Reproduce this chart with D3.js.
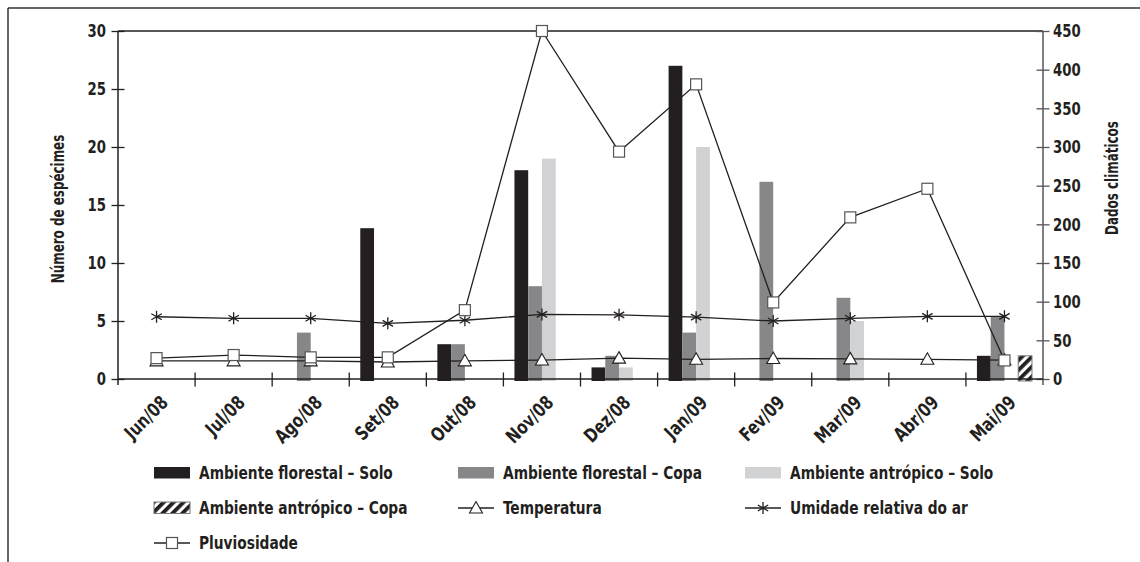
<!DOCTYPE html>
<html>
<head>
<meta charset="utf-8">
<script src="https://cdn.jsdelivr.net/npm/d3@7"></script>
<style>
  html, body { margin: 0; padding: 0; background: #fff; }
  svg { display: block; }
  text { font-family: "Liberation Sans Narrow", "DejaVu Sans Condensed", "Arial Narrow", sans-serif; font-weight: bold; fill: #231f20; }
</style>
</head>
<body>
<svg id="chart" width="1140" height="562"></svg>
<script>
const months = ["Jun/08","Jul/08","Ago/08","Set/08","Out/08","Nov/08","Dez/08","Jan/09","Fev/09","Mar/09","Abr/09","Mai/09"];
const florestalSolo = [0, 0, 0, 13, 3, 18, 1, 27, 0, 0, 0, 2];
const florestalCopa = [0, 0, 4, 0, 3, 8, 2, 4, 17, 7, 0, 5.4];
const antropicoSolo = [0, 0, 0, 0, 0, 19, 1, 20, 0, 5, 0, 0];
const antropicoCopa = [0, 0, 0, 0, 0, 0, 0, 0, 0, 0, 0, 2];
const temperatura = [23.5, 23.5, 23.5, 22, 23.5, 24.5, 27, 25.5, 26.5, 26, 25.5, 24.5];
const umidade = [80.5, 78.5, 78.5, 72, 76, 83.5, 83, 80, 75, 78.5, 81, 81];
const pluviosidade = [27, 31, 28, 28, 89, 450, 294, 381, 99, 209, 246, 24];
const leftTicks = [0, 5, 10, 15, 20, 25, 30];
const rightTicks = [0, 50, 100, 150, 200, 250, 300, 350, 400, 450];

const barSeries = [
  {name: "Ambiente florestal – Solo", values: florestalSolo, fill: "#231f20"},
  {name: "Ambiente florestal – Copa", values: florestalCopa, fill: "#87878a"},
  {name: "Ambiente antrópico – Solo", values: antropicoSolo, fill: "#d1d2d4"},
  {name: "Ambiente antrópico – Copa", values: antropicoCopa, fill: "url(#hatch)"}
];
const lineSeries = [
  {name: "Temperatura", values: temperatura, marker: "triangle"},
  {name: "Umidade relativa do ar", values: umidade, marker: "star"},
  {name: "Pluviosidade", values: pluviosidade, marker: "square"}
];

const svg = d3.select("#chart");
const L = 118, R = 1043, T = 31, B = 379;
const K = 0.82;

const defs = svg.append("defs");
const pat = defs.append("pattern").attr("id", "hatch").attr("patternUnits", "userSpaceOnUse")
  .attr("width", 7).attr("height", 7).attr("patternTransform", "rotate(45)");
pat.append("rect").attr("width", 7).attr("height", 7).attr("fill", "#fff");
pat.append("rect").attr("width", 3.8).attr("height", 7).attr("fill", "#231f20");

svg.append("line").attr("x1", 8).attr("x2", 1140).attr("y1", 8).attr("y2", 8).attr("stroke", "#333").attr("stroke-width", 1.5);
svg.append("line").attr("x1", 8).attr("x2", 8).attr("y1", 8).attr("y2", 562).attr("stroke", "#333").attr("stroke-width", 1.5);

const x0 = d3.scaleBand().domain(months).range([L, R]).padding(0);
const x1 = d3.scaleBand().domain(barSeries.map(d => d.name))
  .range([x0.bandwidth() * 0.143, x0.bandwidth() * 0.857]).padding(0);
const yL = d3.scaleLinear().domain([0, 30]).range([B, T]);
const yR = d3.scaleLinear().domain([0, 450]).range([B, T]);

svg.append("line").attr("x1", L).attr("x2", R).attr("y1", T).attr("y2", T).attr("stroke", "#231f20").attr("stroke-width", 1.3);

barSeries.forEach(s => {
  svg.append("g").selectAll("rect").data(s.values.map((v, i) => ({v, m: months[i]})).filter(d => d.v > 0))
    .join("rect")
    .attr("x", d => x0(d.m) + x1(s.name))
    .attr("width", x1.bandwidth())
    .attr("y", d => yL(d.v))
    .attr("height", d => yL(0) - yL(d.v) + 2)
    .attr("fill", s.fill)
    .attr("stroke", s.fill.startsWith("url") ? "#777" : "none")
    .attr("stroke-width", 1);
});

const axL = svg.append("g").attr("transform", `translate(${L},0)`)
  .call(d3.axisLeft(yL).tickValues(leftTicks).tickSize(6.5).tickSizeOuter(0));
axL.select(".domain").attr("stroke", "#231f20").attr("stroke-width", 1.5).attr("d", `M0,${T}V${B + 6}`);
axL.selectAll(".tick line").attr("x1", -6.5).attr("x2", 6.5).attr("stroke", "#231f20").attr("stroke-width", 1.3);
axL.selectAll(".tick text").attr("x", -12 / K).attr("transform", `scale(${K},1)`).style("font-size", "18px");

const axR = svg.append("g").attr("transform", `translate(${R},0)`)
  .call(d3.axisRight(yR).tickValues(rightTicks).tickSize(6.5).tickSizeOuter(0));
axR.select(".domain").attr("stroke", "#555").attr("stroke-width", 1.5).attr("d", `M0,${T}V${B + 6}`);
axR.selectAll(".tick line").attr("x1", -6.5).attr("x2", 6.5).attr("stroke", "#555").attr("stroke-width", 1.3);
axR.selectAll(".tick text").attr("x", 10 / K).attr("transform", `scale(${K},1)`).style("font-size", "18px");

const axB = svg.append("g").attr("transform", `translate(0,${B})`)
  .call(d3.axisBottom(x0).tickSize(0).tickSizeOuter(0));
axB.select(".domain").attr("stroke", "#231f20").attr("stroke-width", 1.5).attr("d", `M${L},0H${R}`);
axB.selectAll(".tick line").remove();
svg.append("g").selectAll("line").data(months.slice(1))
  .join("line")
  .attr("x1", d => x0(d)).attr("x2", d => x0(d))
  .attr("y1", B - 6.5).attr("y2", B + 7.5)
  .attr("stroke", "#231f20").attr("stroke-width", 1.3);
axB.selectAll(".tick text")
  .attr("text-anchor", "end")
  .attr("transform", `translate(8,20) rotate(-45) scale(0.86,1)`)
  .attr("dy", "0.35em").attr("y", 0).attr("x", 0)
  .style("font-size", "19px");

svg.append("text").attr("transform", `translate(64,${(T + B) / 2 + 4}) rotate(-90) scale(0.78,1)`)
  .attr("text-anchor", "middle").style("font-size", "17px").text("Número de espécimes");
svg.append("text").attr("transform", `translate(1118,178) rotate(-90) scale(0.78,1)`)
  .attr("text-anchor", "middle").style("font-size", "17px").text("Dados climáticos");

function drawMarker(g, type, cx, cy) {
  if (type === "square") {
    g.append("rect").attr("x", cx - 5.5).attr("y", cy - 5.5).attr("width", 11).attr("height", 11)
      .attr("fill", "#fff").attr("stroke", "#555").attr("stroke-width", 1.2);
  } else if (type === "triangle") {
    g.append("path").attr("d", `M${cx},${cy - 6.5}L${cx + 6.5},${cy + 5}L${cx - 6.5},${cy + 5}Z`)
      .attr("fill", "#fff").attr("stroke", "#231f20").attr("stroke-width", 1.1);
  } else {
    const r = 6;
    const p = [];
    [90, 30, -30].forEach(a => {
      const rad = a * Math.PI / 180;
      p.push(`M${cx - r * Math.cos(rad)},${cy - r * Math.sin(rad)}L${cx + r * Math.cos(rad)},${cy + r * Math.sin(rad)}`);
    });
    g.append("path").attr("d", p.join("")).attr("stroke", "#231f20").attr("stroke-width", 1.3).attr("fill", "none");
  }
}

const lineGen = d3.line().x((d, i) => x0(months[i]) + x0.bandwidth() / 2).y(d => yR(d));
lineSeries.forEach(s => {
  const g = svg.append("g");
  g.append("path").attr("d", lineGen(s.values)).attr("fill", "none").attr("stroke", "#231f20").attr("stroke-width", 1.3);
  s.values.forEach((v, i) => drawMarker(g, s.marker, x0(months[i]) + x0.bandwidth() / 2, yR(v)));
});

const legendItems = [
  {label: barSeries[0].name, kind: "bar", fill: barSeries[0].fill},
  {label: barSeries[1].name, kind: "bar", fill: barSeries[1].fill},
  {label: barSeries[2].name, kind: "bar", fill: barSeries[2].fill},
  {label: barSeries[3].name, kind: "bar", fill: barSeries[3].fill, hatch: true},
  {label: lineSeries[0].name, kind: "line", marker: "triangle"},
  {label: lineSeries[1].name, kind: "line", marker: "star"},
  {label: lineSeries[2].name, kind: "line", marker: "square"}
];
const colX = [154, 458, 745];
const rowY = [473, 508, 543];
legendItems.forEach((d, i) => {
  const cx = colX[i % 3], cy = rowY[Math.floor(i / 3)];
  const g = svg.append("g");
  if (d.kind === "bar") {
    g.append("rect").attr("x", cx).attr("y", cy - 6).attr("width", 36).attr("height", 11.5)
      .attr("fill", d.fill).attr("stroke", d.hatch ? "#777" : "none");
  } else {
    g.append("line").attr("x1", cx).attr("x2", cx + 36).attr("y1", cy).attr("y2", cy).attr("stroke", "#231f20").attr("stroke-width", 1.3);
    drawMarker(g, d.marker, cx + 18, cy);
  }
  g.append("text").attr("transform", `translate(${cx + 45},${cy}) scale(0.85,1)`).attr("dy", "0.36em")
    .style("font-size", "18px").text(d.label);
});
</script>
</body>
</html>
